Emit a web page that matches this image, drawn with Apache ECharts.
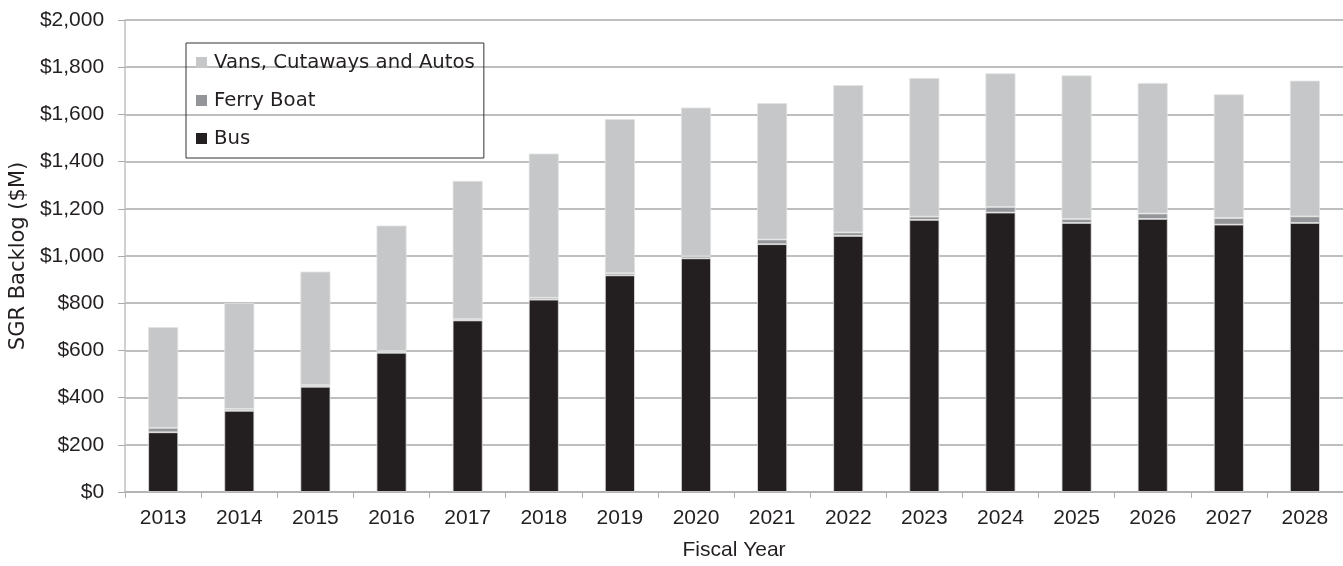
<!DOCTYPE html>
<html>
<head>
<meta charset="utf-8">
<script src="https://cdn.jsdelivr.net/npm/echarts@6/dist/echarts.min.js"></script>
<style>
html,body{margin:0;padding:0;background:#fff;}
#chart{width:1343px;height:566px;}
</style>
</head>
<body>
<div id="chart"></div>
<script>
var years = ['2013','2014','2015','2016','2017','2018','2019','2020','2021','2022','2023','2024','2025','2026','2027','2028'];
var bus   = [253, 344, 446, 590, 727, 815, 918, 990, 1050, 1085, 1153, 1184, 1140, 1157, 1133, 1140];
var ferry = [19, 8, 7, 7, 5, 8, 9, 9, 20, 15, 14, 24, 17, 23, 28, 28];
var vans  = [427, 449, 481, 532, 586, 611, 653, 630, 578, 624, 587, 566, 608, 553, 524, 575];
var yTicks = [0, 200, 400, 600, 800, 1000, 1200, 1400, 1600, 1800, 2000];

var AX = '"Liberation Sans", Arial, sans-serif';
var LG = '"DejaVu Sans", sans-serif';
function fmt(v){ return '$' + v.toString().replace(/\B(?=(\d{3})+(?!\d))/g, ','); }

var chart = echarts.init(document.getElementById('chart'), null, {renderer:'canvas'});
var barBorder = {borderColor:'#e2e2e2', borderWidth:0.8};
chart.setOption({
  animation:false,
  backgroundColor:'#fff',
  grid:{left:125, right:0, top:20, bottom:70, containLabel:false},
  legend:{
    orient:'vertical', left:186, top:43,
    data:['Vans, Cutaways and Autos','Ferry Boat','Bus'],
    icon:'rect', itemWidth:11, itemHeight:11, itemGap:17,
    padding:[9,9,9,10],
    borderColor:'#333', borderWidth:1,
    itemStyle:{borderWidth:0},
    textStyle:{fontFamily:LG, fontSize:19.7, color:'#231f20', lineHeight:21, padding:[0,0,0,2]}
  },
  xAxis:{
    type:'category', data:years,
    name:'Fiscal Year', nameLocation:'middle', nameGap:48,
    nameTextStyle:{fontFamily:AX, fontSize:21, color:'#231f20'},
    axisLine:{lineStyle:{color:'#b0b0b0', width:1.5}},
    axisTick:{show:true, length:6, alignWithLabel:false, lineStyle:{color:'#b0b0b0'}},
    axisLabel:{fontFamily:AX, fontSize:21, color:'#231f20', margin:16}
  },
  yAxis:{
    type:'value', min:0, max:2000, interval:200,
    name:'SGR Backlog ($M)', nameLocation:'middle', nameGap:93, nameRotate:90,
    nameTextStyle:{fontFamily:LG, fontSize:21, color:'#231f20'},
    axisLine:{show:true, lineStyle:{color:'#c0c0c0', width:1.5}},
    axisTick:{show:true, length:7, lineStyle:{color:'#a8a8a8'}},
    splitLine:{lineStyle:{color:'#a8a8a8', width:1.5}},
    axisLabel:{fontFamily:AX, fontSize:21, color:'#231f20', margin:21,
      formatter:function(v){ return yTicks.indexOf(v) >= 0 ? fmt(v) : ''; }}
  },
  series:[
    {name:'Bus', type:'bar', stack:'s', barWidth:30, data:bus,
     itemStyle:Object.assign({color:'#231f20'}, barBorder)},
    {name:'Ferry Boat', type:'bar', stack:'s', barWidth:30, data:ferry,
     itemStyle:Object.assign({color:'#939598'}, barBorder)},
    {name:'Vans, Cutaways and Autos', type:'bar', stack:'s', barWidth:30, data:vans,
     itemStyle:Object.assign({color:'#c6c7c8'}, barBorder)}
  ]
});
</script>
</body>
</html>
